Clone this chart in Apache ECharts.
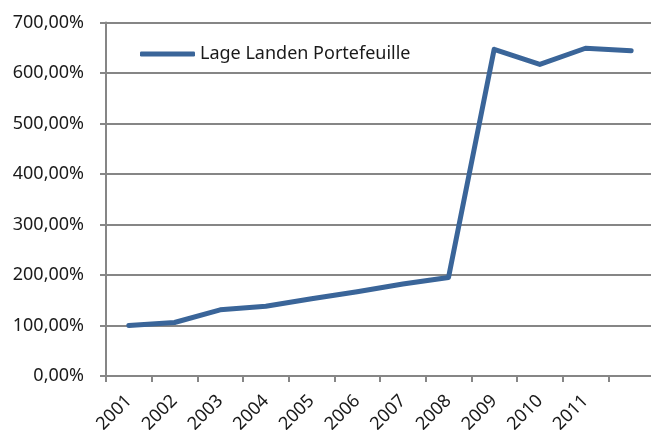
<!DOCTYPE html>
<html><head><meta charset="utf-8">
<script src="https://cdn.jsdelivr.net/npm/echarts@6/dist/echarts.min.js"></script>
<style>html,body{margin:0;padding:0;background:#fff}#c{width:651px;height:430px}</style>
</head><body><div id="c"></div>
<script>
const categories = ['2001','2002','2003','2004','2005','2006','2007','2008','2009','2010','2011',''];
const seriesName = 'Lage Landen Portefeuille';
const values = [100, 106, 131, 138, 153, 167, 182, 195, 647, 617, 649, 644];
const yMin = 0, yMax = 700, yStep = 100;

const chart = echarts.init(document.getElementById('c'), null, {renderer:'canvas'});
const font = 'Noto Sans';
chart.setOption({
  animation:false,
  backgroundColor:'#fff',
  grid:{left:106, top:22.5, bottom:54, width:548, containLabel:false, outerBoundsMode:'none'},
  legend:{
    left:135, top:40, itemWidth:55, itemHeight:5, itemGap:10,
    textStyle:{fontFamily:font, fontSize:18, color:'#1a1a1a'},
    data:[{name:seriesName, icon:'roundRect'}],
    itemStyle:{color:'#3a6599'}
  },
  xAxis:{
    type:'category', data:categories, boundaryGap:true,
    axisLine:{lineStyle:{color:'#868686', width:2}},
    axisTick:{show:true, length:6, lineStyle:{color:'#868686', width:2}},
    axisLabel:{interval:0, rotate:45, margin:22, fontFamily:font, fontSize:18, color:'#1a1a1a'}
  },
  yAxis:{
    type:'value', min:yMin, max:yMax, interval:yStep,
    axisLine:{show:true, lineStyle:{color:'#868686', width:2}},
    axisTick:{show:true, length:6, lineStyle:{color:'#868686', width:2}},
    splitLine:{lineStyle:{color:'#868686', width:2}},
    axisLabel:{margin:22, fontFamily:font, fontSize:18, color:'#1a1a1a',
      formatter:v=>v.toFixed(2).replace('.',',')+'%'}
  },
  series:[{
    name:seriesName, type:'line', data:values, symbol:'none',
    lineStyle:{color:'#3a6599', width:5, cap:'round', join:'round'},
    itemStyle:{color:'#3a6599'}
  }]
});
</script></body></html>
